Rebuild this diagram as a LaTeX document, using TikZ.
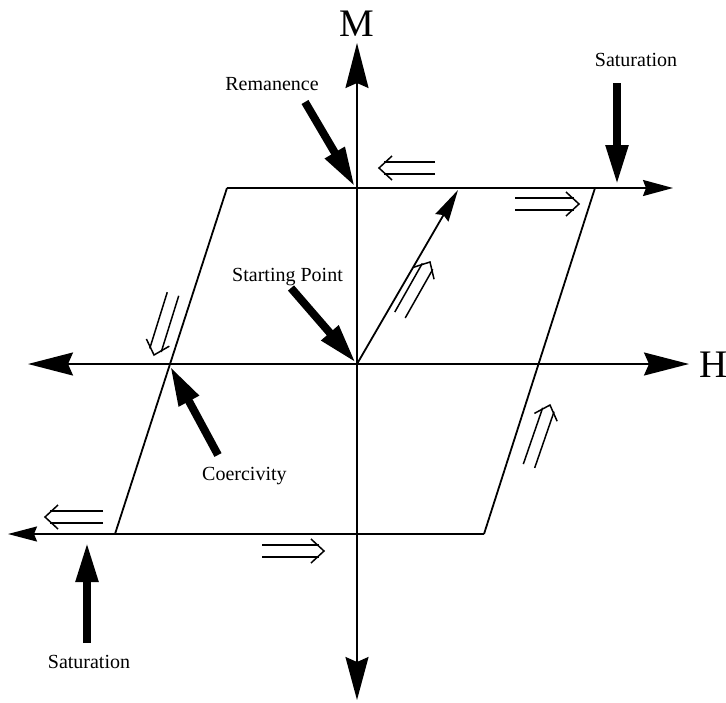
\documentclass[tikz,border=0pt]{standalone}
\usepackage{fontspec}
\setmainfont{Liberation Serif}
\usetikzlibrary{arrows.meta,calc}
\tikzset{
  axisline/.style={line width=2pt},
  edgeline/.style={line width=1.8pt},
  dblline/.style={line width=1.5pt},
  blockarrow/.style={line width=8pt,-{Triangle[length=40pt,width=21pt]}},
  lbl/.style={inner sep=0pt,font=\fontsize{20}{24}\selectfont},
  axlbl/.style={inner sep=0pt,font=\fontsize{39}{44}\selectfont},
}
\newcommand\hollowarrow[3]{%
  \coordinate (#1t) at #2;
  \coordinate (#1h) at #3;
  \coordinate (#1q) at ($(#1h)!5pt!(#1t)$);
  \coordinate (#1c) at ($(#1h)!13pt!(#1t)$);
  \draw[dblline] ($(#1t)!6pt!90:(#1h)$) -- ($(#1q)!6pt!-90:(#1t)$);
  \draw[dblline] ($(#1t)!6pt!-90:(#1h)$) -- ($(#1q)!6pt!90:(#1t)$);
  \draw[dblline] ($(#1c)!12pt!90:(#1h)$) -- (#1h) -- ($(#1c)!12pt!-90:(#1h)$);
}
\begin{document}
\begin{tikzpicture}[x=1pt,y=-1pt]
\useasboundingbox (0,0) rectangle (726,702);
% axes
\coordinate (O) at (357,364);
\coordinate (Hl) at (28,364);
\coordinate (Hr) at (689,364);
\coordinate (Mt) at (357,43);
\coordinate (Mb) at (357,700);
\draw[axisline,{Stealth[length=45pt,width=23pt,inset=5pt]}-{Stealth[length=45pt,width=23pt,inset=5pt]}] (Hl) -- (Hr);
\draw[axisline,{Stealth[length=43pt,width=23pt,inset=5pt]}-{Stealth[length=45pt,width=23pt,inset=5pt]}] (Mb) -- (Mt);
\node[axlbl,anchor=base] (M) at (357,36) {M};
\node[axlbl,anchor=base west] (H) at (699,377) {H};
% loop
\coordinate (TL) at (227,188);
\coordinate (TR) at (595,188);
\coordinate (BL) at (115,534);
\coordinate (BR) at (484,534);
\coordinate (Ttip) at (673,188);
\coordinate (Btip) at (8,534);
\coordinate (Itip) at (458,190);
\draw[edgeline] (TL) -- (BL);
\draw[edgeline] (TR) -- (BR);
\draw[edgeline,-{Stealth[length=30pt,width=16pt,inset=3pt]}] (TL) -- (Ttip);
\draw[edgeline,-{Stealth[length=29pt,width=15pt,inset=3pt]}] (BR) -- (Btip);
\draw[edgeline,-{Stealth[length=32pt,width=15pt,inset=3pt]}] (O) -- (Itip);
% hollow direction arrows
\hollowarrow{da}{(435,168)}{(379,168)}
\hollowarrow{db}{(515,204)}{(579,204)}
\hollowarrow{dc}{(173,294)}{(154,355)}
\hollowarrow{dd}{(400,315)}{(430,262)}
\hollowarrow{de}{(529,466)}{(550,405)}
\hollowarrow{df}{(103,517)}{(45,517)}
\hollowarrow{dg}{(262,551)}{(324,551)}
% labels
\node[lbl,anchor=base] (rem) at (272,90) {Remanence};
\node[lbl,anchor=base] (sat1) at (636,66) {Saturation};
\node[lbl,anchor=base] (sat2) at (89,668) {Saturation};
\node[lbl,anchor=base east] (start) at (343,281) {Starting Point};
\node[lbl,anchor=base west] (coer) at (202,480) {Coercivity};
% block arrows
\coordinate (remT) at (305,102);
\coordinate (remH) at (355,187);
\coordinate (s1T) at (617,83);
\coordinate (s1H) at (617,185);
\coordinate (s2T) at (87,643);
\coordinate (s2H) at (87,542);
\coordinate (spT) at (291,288);
\coordinate (spH) at (356,363);
\coordinate (coT) at (218,455);
\coordinate (coH) at (170,366);
\draw[blockarrow] (remT) -- (remH);
\draw[blockarrow] (s1T) -- (s1H);
\draw[blockarrow] (s2T) -- (s2H);
\draw[blockarrow] (spT) -- (spH);
\draw[blockarrow] (coT) -- (coH);
\end{tikzpicture}
\end{document}
